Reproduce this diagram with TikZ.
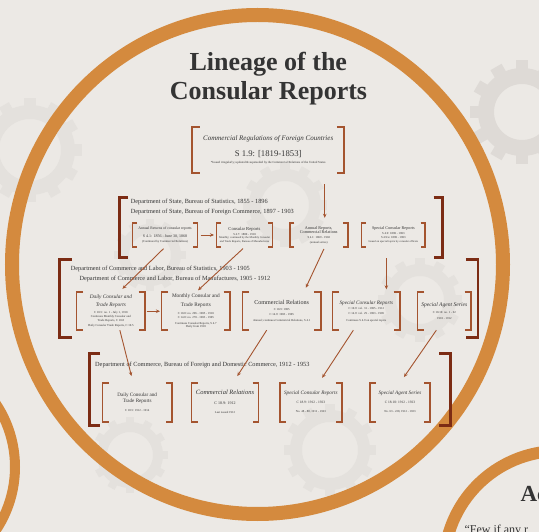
\documentclass[tikz,border=0pt]{standalone}
\usepackage{fontspec}
\setmainfont{Liberation Serif}
\usetikzlibrary{arrows.meta}

\definecolor{paper}{HTML}{ECE9E5}
\definecolor{ringcol}{HTML}{D48A3E}
\definecolor{rust}{HTML}{A4542F}
\definecolor{darkrust}{HTML}{7C2C14}
\definecolor{ink}{HTML}{343434}
\definecolor{gearcol}{HTML}{DEDAD6}
\definecolor{gearpale}{HTML}{E4E1DD}

\newcommand{\txtsize}[1]{\fontsize{#1}{#1}\selectfont}
% gear: colour, x, y, hub radius, ring width
\newcommand{\gearat}[5]{%
  \draw[#1, line width=#5] (#2,#3) circle (#4);
  \foreach \a in {0,30,...,330}
    \draw[#1, line width=0.8*#5] (#2,#3) ++(\a:#4) -- ++(\a:#5);
}

\begin{document}
\begin{tikzpicture}[x=1pt, y=-1pt, >=Stealth,
    repbox/.style={inner sep=0pt, align=center, text=ink},
    grpbox/.style={inner sep=0pt},
    dept/.style={inner sep=0pt, text=ink, font=\fontsize{6.3}{7}\selectfont},
    bracket/.style={rust, line width=1.8pt, line join=miter},
    bigbracket/.style={darkrust, line width=2.8pt, line join=miter},
    link/.style={->, rust, line width=0.9pt, >={Stealth[length=4pt, width=3.5pt]}}]
    \useasboundingbox (0,0) rectangle (539,532);
    \clip (0,0) rectangle (539,532);
    \fill[paper] (0,0) rectangle (539,532);

    % Faint gears behind everything
    \gearat{gearcol}{522}{112}{36pt}{16pt}
    \gearat{gearpale}{30}{150}{38pt}{14pt}
    \gearat{gearpale}{285}{205}{30pt}{12pt}
    \gearat{gearpale}{150}{255}{26pt}{10pt}
    \gearat{gearpale}{420}{300}{30pt}{12pt}
    \gearat{gearpale}{330}{450}{34pt}{12pt}
    \gearat{gearpale}{130}{455}{28pt}{10pt}

    % Orange rings
    \draw[ringcol, line width=14pt] (257.5,264.5) ellipse [x radius=245.5pt, y radius=249.5pt];
    \draw[ringcol, line width=10pt] (-99,467) circle (114pt);
    \draw[ringcol, line width=12pt] (559,566) circle (115pt);

    % Title
    \node[anchor=base, text=ink, font=\bfseries\fontsize{26}{30}\selectfont] (ttlA) at (268.3,70.5) {Lineage of the};
    \node[anchor=base, text=ink, font=\bfseries\fontsize{26}{30}\selectfont] (ttlB) at (268.5,99.5) {Consular Reports};

    % Text outside the big ring, cut by the edge as in the slide
    \node[anchor=base west, text=ink, font=\bfseries\fontsize{23}{26}\selectfont] (acc) at (517,501.5) {Ac};
    \node[anchor=base west, text=ink, font=\fontsize{12}{14}\selectfont] (few) at (461,533) {``Few if any r};

    % Top box
    \node[repbox, minimum width=151.7pt, minimum height=46pt, font=\fontsize{3}{7.3}\selectfont] (top) at (268.2,150)
      {{\txtsize{7}\itshape Commercial Regulations of Foreign Countries}\\[7.1pt]
       {\txtsize{8.7}S 1.9: [1819-1853]}\\
       {\txtsize{3.1}*Issued irregularly; updated \& superseded by the Commercial Relations of the United States}};

    % Department of State group
    \node[grpbox, minimum width=323.2pt, minimum height=59pt] (grpState) at (280.9,227.5) {};
    \node[dept, anchor=base west] (stA) at (130.7,203.2) {Department of State, Bureau of Statistics, 1855 - 1896};
    \node[dept, anchor=base west] (stB) at (130.7,213.2) {Department of State, Bureau of Foreign Commerce, 1897 - 1903};

    \node[repbox, minimum width=64.6pt, minimum height=24pt, font=\fontsize{3}{5.3}\selectfont] (s1) at (165,235)
      {{\txtsize{3.8}Annual Returns of consular reports}\\[2.6pt]
       {\txtsize{4}S 4.1: 1856 - June 30, 1868}\\
       {\txtsize{3}(Continued by Commercial Relations)}};
    \node[repbox, minimum width=55.6pt, minimum height=24pt, font=\fontsize{3}{3.7}\selectfont] (s2) at (244.5,235)
      {{\txtsize{4.6}Consular Reports}\\[1.2pt]
       {\txtsize{3}S 4.7: 1880 - 1910}\\
       {\txtsize{2.8}Monthly; continued by the Monthly Consular}\\
       {\txtsize{2.8}and Trade Reports, Bureau of Manufactures}};
    \node[repbox, minimum width=57.5pt, minimum height=24pt, font=\fontsize{3}{4.2}\selectfont] (s3) at (318.75,235)
      {{\txtsize{4.2}Annual Reports,}\\[0.4pt]
       {\txtsize{4.2}Commercial Relations}\\[0.8pt]
       {\txtsize{3}S 4.1: 1869 - 1902}\\
       {\txtsize{3}(annual series)}};
    \node[repbox, minimum width=63.3pt, minimum height=24pt, font=\fontsize{3}{4.2}\selectfont] (s4) at (393.35,235)
      {{\txtsize{4.2}Special Consular Reports}\\
       {\txtsize{3}S 4.9: 1890 - 1903}\\
       {\txtsize{3}S 4.9/a: 1890 - 1903}\\
       {\txtsize{2.8}Issued on special topics by consular officers}};

    % Department of Commerce and Labor group
    \node[grpbox, minimum width=417.7pt, minimum height=77.5pt] (grpLabor) at (268.85,298.75) {};
    \node[dept, anchor=base west] (lbA) at (70.7,270.5) {Department of Commerce and Labor, Bureau of Statistics, 1903 - 1905};
    \node[dept, anchor=base west] (lbB) at (79.3,280.5) {Department of Commerce and Labor, Bureau of Manufactures, 1905 - 1912};

    \node[repbox, minimum width=68.3pt, minimum height=37.5pt, font=\fontsize{3}{4.3}\selectfont] (m1) at (110.85,311.25)
      {{\txtsize{5.3}\itshape Daily Consular and}\\[2.2pt]
       {\txtsize{5.3}\itshape Trade Reports}\\[2.2pt]
       {\txtsize{3}C 10.5: no. 1 - July 1, 1910}\\
       {\txtsize{3}Continues Monthly Consular and}\\
       {\txtsize{3}Trade Reports, C 10.8}\\[0.6pt]
       {\txtsize{3}Daily Consular Trade Reports, C 10.5}};
    \node[repbox, minimum width=68.3pt, minimum height=37.5pt, font=\fontsize{3}{3.6}\selectfont] (m2) at (195.85,311.25)
      {{\txtsize{5.3}Monthly Consular and}\\[2.8pt]
       {\txtsize{5.3}Trade Reports}\\[4.8pt]
       {\txtsize{3}C 10.8: no. 296 - 1905 - 1910}\\
       {\txtsize{3}C 14.8: no. 270 - 1903 - 1905}\\[2.4pt]
       {\txtsize{3}Continues Consular Reports, S 4.7}\\
       {\txtsize{3}Daily from 1910}};
    \node[repbox, minimum width=78pt, minimum height=37.5pt, font=\fontsize{3}{5}\selectfont] (m3) at (281.7,311.25)
      {{\txtsize{6.1}Commercial Relations}\\[1.2pt]
       {\txtsize{3}C 10.9: 1905}\\
       {\txtsize{3}C 14.9: 1903 - 1905}\\[1.2pt]
       {\txtsize{3}Annual; continues Commercial Relations, S 4.1}};
    \node[repbox, minimum width=67.3pt, minimum height=37.5pt, font=\fontsize{3}{5}\selectfont] (m4) at (366.35,311.25)
      {{\txtsize{5.2}\itshape Special Consular Reports}\\[0.8pt]
       {\txtsize{3}C 10.9: vol. 31 - 1905 - 1912}\\
       {\txtsize{3}C 14.9: vol. 29 - 1903 - 1905}\\[1.6pt]
       {\txtsize{3}Continues S 4.9 on special topics}};
    \node[repbox, minimum width=53.3pt, minimum height=37.5pt, font=\fontsize{3}{6.6}\selectfont] (m5) at (444.35,311.25)
      {{\txtsize{5.6}\itshape Special Agent Series}\\
       {\txtsize{3}C 10.10: no. 1 - 62}\\
       {\txtsize{3}1910 - 1912}};

    % Department of Commerce group
    \node[grpbox, minimum width=360.7pt, minimum height=71.7pt] (grpCommerce) at (269.65,389.15) {};
    \node[dept, anchor=base west] (cmA) at (95,366.5) {Department of Commerce, Bureau of Foreign and Domestic Commerce, 1912 - 1953};

    \node[repbox, minimum width=69pt, minimum height=38.5pt, font=\fontsize{3}{8.3}\selectfont] (b1) at (137.2,402.25)
      {{\txtsize{5.1}Daily Consular and}\\[-2.3pt]
       {\txtsize{5.1}Trade Reports}\\
       {\txtsize{3}C 18.5: 1912 - 1914}};
    \node[repbox, minimum width=66.6pt, minimum height=38.5pt, font=\fontsize{3}{9.5}\selectfont] (b2) at (225,402.25)
      {{\txtsize{6.5}\itshape Commercial Relations}\\
       {\txtsize{4}C 18.9: 1912}\\
       {\txtsize{3}Last issued 1912}};
    \node[repbox, minimum width=61.7pt, minimum height=38.5pt, font=\fontsize{3}{9}\selectfont] (b3) at (310.85,402.25)
      {{\txtsize{5.2}\itshape Special Consular Reports}\\
       {\txtsize{3.5}C 18.9: 1912 - 1923}\\
       {\txtsize{3}No. 48 - 88, 1912 - 1923}};
    \node[repbox, minimum width=60pt, minimum height=38.5pt, font=\fontsize{3}{9}\selectfont] (b4) at (400,402.25)
      {{\txtsize{5.2}\itshape Special Agent Series}\\
       {\txtsize{3.5}C 18.10: 1912 - 1923}\\
       {\txtsize{3}No. 63 - 228, 1912 - 1923}};

    % Brackets round the report boxes
    \foreach \n/\arm in {top/7.5, s1/4.5, s2/4.5, s3/4.5, s4/4.5, m1/6.5, m2/6.5, m3/6.5, m4/6.5, m5/6.5, b1/6, b2/6, b3/6, b4/6} {
        \draw[bracket] ([xshift=\arm pt]\n.north west) -- (\n.north west) -- (\n.south west) -- ([xshift=\arm pt]\n.south west);
        \draw[bracket] ([xshift=-\arm pt]\n.north east) -- (\n.north east) -- (\n.south east) -- ([xshift=-\arm pt]\n.south east);
    }
    % Brackets round the department groups
    \foreach \n/\arm in {grpState/9, grpLabor/12, grpCommerce/11} {
        \draw[bigbracket] ([xshift=\arm pt]\n.north west) -- (\n.north west) -- (\n.south west) -- ([xshift=\arm pt]\n.south west);
        \draw[bigbracket] ([xshift=-\arm pt]\n.north east) -- (\n.north east) -- (\n.south east) -- ([xshift=-\arm pt]\n.south east);
    }

    % Arrows between the series
    \draw[link, shorten <=11pt, shorten >=5pt] ([xshift=6pt]s3.north |- top.south) -- ([xshift=6pt]s3.north);
    \draw[link, shorten <=3pt, shorten >=2.5pt] (s1.east) -- (s2.west);
    \draw[link, shorten <=2pt, shorten >=5pt] (s1.south) -- ([xshift=8pt]m1.north);
    \draw[link, shorten <=2pt, shorten >=3pt] (s2.south) -- (m2.north);
    \draw[link, shorten <=2pt, shorten >=5pt] ([xshift=6pt]s3.south) -- ([xshift=22pt]m3.north);
    \draw[link, shorten <=11pt, shorten >=3pt] ([xshift=-7pt]s4.south) -- ([xshift=-7pt]s4.south |- m4.north);
    \draw[link, shorten <=1.5pt, shorten >=1.5pt] (m1.east) -- (m2.west);
    \draw[link, shorten <=0pt, shorten >=7pt] ([xshift=9pt]m1.south) -- ([xshift=-4pt]b1.north);
    \draw[link, shorten <=0pt, shorten >=8pt] ([xshift=-15pt]m3.south) -- ([xshift=8pt]b2.north);
    \draw[link, shorten <=0pt, shorten >=6pt] ([xshift=-13pt]m4.south) -- ([xshift=8pt]b3.north);
    \draw[link, shorten <=0pt, shorten >=7pt] ([xshift=-8pt]m5.south) -- (b4.north);
\end{tikzpicture}
\end{document}
